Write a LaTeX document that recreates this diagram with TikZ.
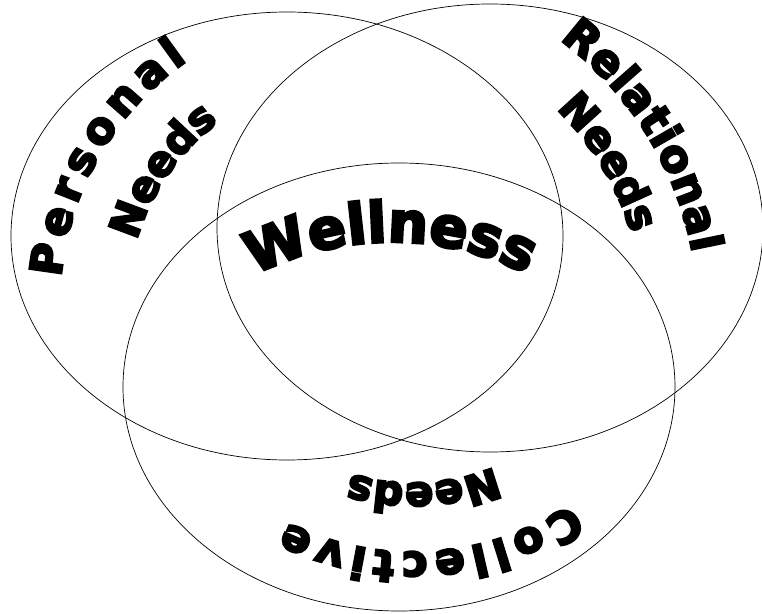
\documentclass[tikz,border=0pt]{standalone}
\usepackage{fontspec}
\setmainfont{DejaVu Sans}[BoldFeatures={FakeBold=5}]
\usetikzlibrary{decorations.text}
\newcommand{\fsmall}{\fontsize{42}{42}\selectfont\bfseries}
\newcommand{\fmid}{\fontsize{44}{44}\selectfont\bfseries}
\newcommand{\fbig}{\fontsize{56}{56}\selectfont\bfseries}
\begin{document}
\begin{tikzpicture}[x=1pt,y=1pt,
  ring/.style={draw=black, line width=0.7pt},
  arctext/.style={decorate, decoration={text along path, text align=fit to path, text format delimiters={|}{|}, text={#1}}}]
\useasboundingbox (0,0) rectangle (762,613);
% circles
\draw[ring] (287,377) ellipse[x radius=276, y radius=224];
\draw[ring] (490,385) ellipse[x radius=273, y radius=224];
\draw[ring] (399,226) ellipse[x radius=276, y radius=224];
% Personal Needs
\path[arctext={|\fmid|Personal}] ([shift={(175:294)}]354,310) arc[start angle=175, end angle=124.5, radius=294];
\path[arctext={|\fsmall|Needs}] ([shift={(164:226)}]354,310) arc[start angle=164, end angle=127.6, radius=226];
% Relational Needs
\path[arctext={|\fmid|Relational}] ([shift={(53.4:343)}]355,298) arc[start angle=53.4, end angle=10.4, radius=343];
\path[arctext={|\fsmall|Needs}] ([shift={(45.7:288)}]355,298) arc[start angle=45.7, end angle=18.7, radius=288];
% Collective Needs
\path[arctext={|\fmid|Collective}] ([shift={(-56:282)}]413,343) arc[start angle=-56, end angle=-116.5, radius=282];
\path[arctext={|\fsmall|Needs}] ([shift={(-67.5:213)}]413,343) arc[start angle=-67.5, end angle=-106, radius=213];
% Wellness
\path[arctext={|\fbig|Wellness}] ([shift={(117.2:301)}]392,70) arc[start angle=117.2, end angle=63.5, radius=301];
\end{tikzpicture}
\end{document}
